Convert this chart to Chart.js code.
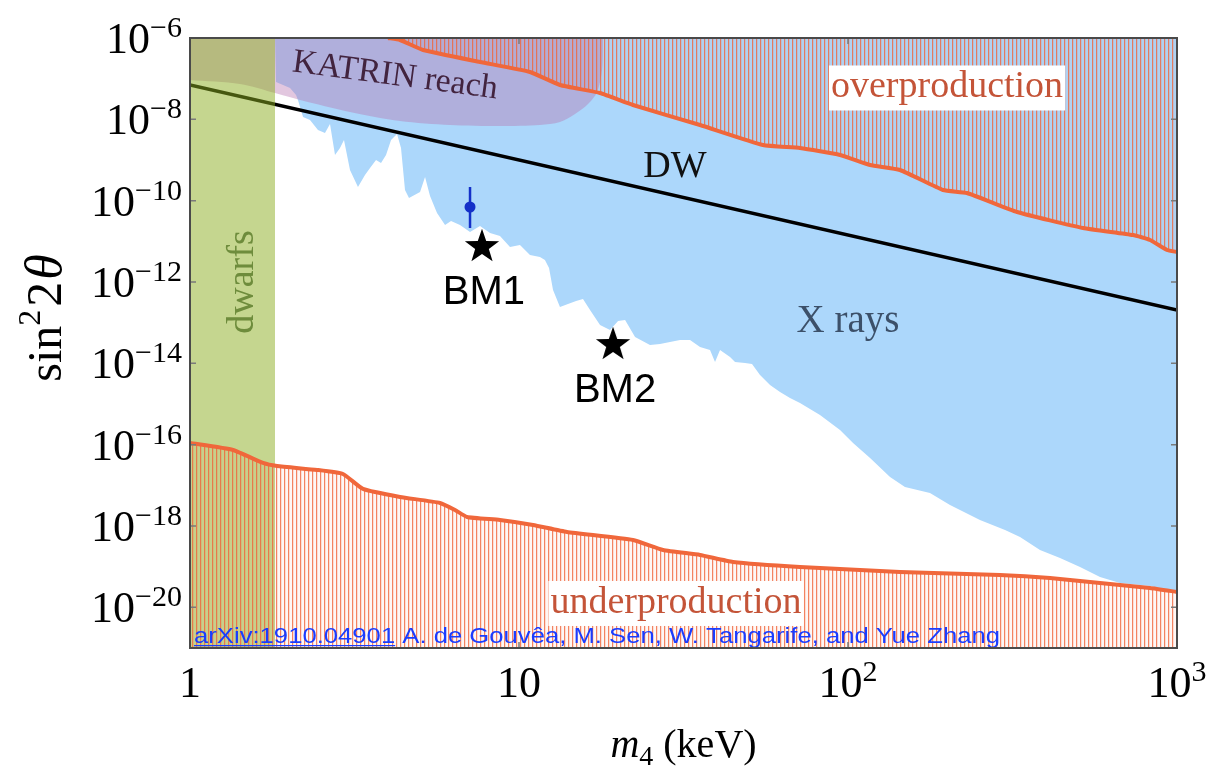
<!DOCTYPE html>
<html>
<head>
<meta charset="utf-8">
<script src="https://cdn.jsdelivr.net/npm/chart.js@4.4.1/dist/chart.umd.min.js"></script>
<style>
  html, body { margin: 0; padding: 0; background: #fff; }
  #wrap { width: 1211px; height: 767px; }
</style>
</head>
<body>
<div id="wrap"><canvas id="canvas" width="1211" height="767"></canvas></div>
<script>
// sterile neutrino parameter space: m4 (keV) against sin^2(2 theta), both log

// X-ray exclusion, lower edge (region above is excluded)
var xRayMass = [1.813, 1.826, 2.014, 2.100, 2.129, 2.206, 2.316, 2.449, 2.572, 2.664, 2.759, 2.857, 2.938,
  3.064, 3.240, 3.403, 3.525, 3.676, 3.807, 3.943, 4.084, 4.258, 4.379,
  4.503, 4.631, 5.003, 5.181, 5.365, 5.634, 5.959, 6.214, 6.617, 7.098,
  7.612, 8.164, 8.754, 9.389, 10.07, 10.80, 11.58, 11.99, 12.34, 12.69,
  13.32, 14.09, 14.91, 15.65, 16.44, 17.63, 18.91, 20.00, 21.01, 22.53,
  25.01, 26.83, 28.77, 30.86, 33.10, 35.50, 38.07, 39.43, 40.83, 43.79,
  45.35, 48.64, 51.08, 54.02, 57.94, 62.14, 66.64, 71.47, 82.20, 94.56,
  103.6, 116.7, 134.2, 149.0, 177.5, 204.2, 251.8, 300.1, 333.3, 383.3,
  441.0, 507.3, 583.4, 671.0, 827.8, 1000];
var xRayMix = [1e-6, 8.28e-8, 5.90e-8, 3.97e-8, 2.99e-8, 1.14e-8, 9.63e-9, 5.47e-9, 4.61e-9, 7.68e-9, 1.33e-9, 1.97e-9, 3.10e-9,
  5.68e-10, 2.17e-10, 4.28e-10, 6.36e-10, 1.00e-9, 8.44e-10, 1.33e-9, 3.10e-9, 4.36e-9, 1.97e-9,
  1.83e-10, 1.16e-10, 1.63e-10, 3.82e-10, 1.30e-10, 4.98e-11, 2.52e-11, 3.17e-11, 2.52e-11, 1.70e-11,
  2.38e-11, 1.60e-11, 1.35e-11, 7.26e-12, 8.13e-12, 4.62e-12, 4.12e-12, 3.48e-12, 2.21e-12, 6.37e-13,
  2.43e-13, 2.88e-13, 3.41e-13, 3.82e-13, 2.05e-13, 8.77e-14, 6.61e-14, 1.10e-13, 1.16e-13, 4.45e-14,
  2.83e-14, 2.99e-14, 3.35e-14, 3.75e-14, 3.75e-14, 2.53e-14, 2.13e-14, 1.08e-14, 2.13e-14, 1.43e-14,
  1.08e-14, 1.02e-14, 9.65e-15, 5.17e-15, 2.94e-15, 1.98e-15, 1.41e-15, 1.06e-15, 5.37e-16, 2.30e-16,
  1.10e-16, 4.71e-17, 1.61e-17, 9.12e-18, 6.49e-18, 3.29e-18, 1.41e-18, 7.99e-19, 5.38e-19, 2.58e-19,
  1.64e-19, 9.84e-20, 5.58e-20, 3.98e-20, 3.36e-20, 2.39e-20];

// overproduction bound (excluded above)
var overMass = [4.000, 4.349, 5.109, 7.612, 10.80, 13.32, 17.63, 22.21, 35.50, 55.16, 71.47,
  94.56, 116.7, 143.9, 194.5, 229.9, 326.4, 518.1, 735.0, 827.8, 932.3, 1000];
var overMix = [1e-6, 8.93e-7, 5.07e-7, 2.57e-7, 1.46e-7, 6.99e-8, 4.44e-8, 2.25e-8, 7.26e-9, 2.34e-9, 1.97e-9,
  1.33e-9, 7.54e-10, 5.68e-10, 1.83e-10, 1.54e-10, 5.27e-11, 2.13e-11, 1.43e-11, 1.08e-11, 6.13e-12, 5.47e-12];

// underproduction bound (excluded below)
var underMass = [1, 1.351, 1.667, 1.838, 2.432, 2.917, 3.356, 4.349, 5.753, 6.390, 6.949, 8.754, 11.03,
  13.99, 22.21, 27.40, 35.50, 44.72, 71.47, 143.9, 289.7, 411.2, 583.4, 827.8, 1000];
var underMix = [1.10e-16, 7.41e-17, 3.55e-17, 2.99e-17, 2.39e-17, 1.90e-17, 8.14e-18, 5.18e-18, 3.69e-18,
  2.48e-18, 1.67e-18, 1.41e-18, 1.06e-18, 7.14e-19, 4.54e-19, 2.58e-19, 1.94e-19, 1.31e-19, 9.84e-20,
  7.41e-20, 6.25e-20, 5.28e-20, 3.98e-20, 3.00e-20, 2.39e-20];

// KATRIN reach, lower edge
var katrinMass = [1, 1.419, 1.813, 2.160, 3.064, 4.349, 6.171, 8.754, 11.58, 13.32, 14.80, 16.21, 17.27, 17.88, 18.00];
var katrinMix = [9.27e-8, 7.39e-8, 4.44e-8, 2.99e-8, 1.52e-8, 9.10e-9, 7.26e-9, 6.86e-9, 7.26e-9, 8.60e-9,
  1.35e-8, 2.38e-8, 4.70e-8, 1.63e-7, 1e-6];

// Dodelson-Widrow line
var dwMass = [1, 1000];
var dwMix = [6.99e-8, 2.05e-13];

// dwarf galaxy bound
var dwarfMass = [1, 1.813];

// benchmarks
var bmNames = ['BM1', 'BM2'];
var bmMass = [7.718, 19.31];
var bmMix = [8.13e-12, 3.17e-14];

// 3.5 keV line point with error bar
var lineMass = [7.098];
var lineMix = [6.99e-11];
var lineMixLow = [2.13e-11];
var lineMixHigh = [2.17e-10];

var xTicks = [1, 10, 100, 1000];
var yTicks = [1e-6, 1e-8, 1e-10, 1e-12, 1e-14, 1e-16, 1e-18, 1e-20];

var serif = '"Liberation Serif", "Times New Roman", serif';
var sans = '"Liberation Sans", Arial, sans-serif';
var orange = '#f0673b';

function pts(xs, ys) {
  return xs.map(function(x, i) { return { x: x, y: ys[i] }; });
}

function makeHatch() {
  var c = document.createElement('canvas');
  c.width = 4; c.height = 4;
  var g = c.getContext('2d');
  g.fillStyle = 'rgba(240,100,58,0.8)';
  g.fillRect(0, 0, 1, 4);
  g.fillStyle = 'rgba(240,100,58,0.22)';
  g.fillRect(1, 0, 1, 4);
  g.fillStyle = 'rgba(240,100,58,0.05)';
  g.fillRect(2, 0, 2, 4);
  return g.createPattern(c, 'repeat');
}

function makeStar(size) {
  var c = document.createElement('canvas');
  c.width = size; c.height = size;
  var g = c.getContext('2d');
  var r = size / 2, ri = r * 0.4, cy = r + r * 0.1;
  g.beginPath();
  for (var i = 0; i < 10; i++) {
    var a = -Math.PI / 2 + i * Math.PI / 5;
    var rr = i % 2 ? ri : r;
    g.lineTo(r + rr * Math.cos(a), cy + rr * Math.sin(a));
  }
  g.closePath();
  g.fillStyle = '#000';
  g.fill();
  return c;
}

// text pieces: [{t, font, dy}]
function pieceWidth(ctx, parts) {
  var w = 0;
  parts.forEach(function(p) { ctx.font = p.font; w += ctx.measureText(p.t).width + (p.gap || 0); });
  return w;
}
function drawPieces(ctx, parts, x, y) {
  ctx.textAlign = 'left';
  ctx.textBaseline = 'alphabetic';
  parts.forEach(function(p) {
    ctx.font = p.font;
    ctx.fillText(p.t, x, y + (p.dy || 0));
    x += ctx.measureText(p.t).width + (p.gap || 0);
  });
}
function powParts(v) {
  var e = Math.round(Math.log10(v));
  if (e === 0) return [{ t: '1', font: '44px ' + serif }];
  if (e === 1) return [{ t: '10', font: '44px ' + serif }];
  return [{ t: '10', font: '44px ' + serif },
          { t: String(e).replace('-', '\u2212'), font: '30px ' + serif, dy: -16 }];
}

function boxedText(ctx, text, x, y, font, color) {
  ctx.font = font;
  var w = ctx.measureText(text).width;
  ctx.fillStyle = '#fff';
  ctx.fillRect(x - w / 2 - 2, y - 22, w + 4, 45);
  ctx.fillStyle = color;
  ctx.textAlign = 'center';
  ctx.textBaseline = 'middle';
  ctx.fillText(text, x, y);
}

var decor = {
  id: 'decor',
  afterDatasetsDraw: function(chart) {
    var ctx = chart.ctx, xs = chart.scales.x, ys = chart.scales.y, a = chart.chartArea;
    var px = function(v) { return xs.getPixelForValue(v); };
    var py = function(v) { return ys.getPixelForValue(v); };
    ctx.save();

    // region names
    ctx.save();
    ctx.translate(px(4.20), py(1.16e-7));
    ctx.rotate(7.6 * Math.PI / 180);
    ctx.font = '34px ' + serif;
    ctx.fillStyle = '#42243f';
    ctx.textAlign = 'center';
    ctx.textBaseline = 'middle';
    ctx.fillText('KATRIN reach', 0, 0);
    ctx.restore();

    boxedText(ctx, 'overproduction', px(200), py(6.07e-8), '38px ' + serif, '#c45438');
    boxedText(ctx, 'underproduction', px(30), py(1.28e-20), '38px ' + serif, '#c45438');

    ctx.textAlign = 'center';
    ctx.textBaseline = 'middle';
    ctx.font = '38px ' + serif;
    ctx.fillStyle = '#111';
    ctx.fillText('DW', px(29.8), py(6.73e-10));
    ctx.font = '39px ' + serif;
    ctx.fillStyle = '#3c5069';
    ctx.fillText('X rays', px(100), py(1.04e-13));

    ctx.save();
    ctx.translate(px(1.554), py(1e-12));
    ctx.rotate(-Math.PI / 2);
    ctx.font = '38px ' + serif;
    ctx.fillStyle = '#6e8c3c';
    ctx.textBaseline = 'alphabetic';
    ctx.fillText('dwarfs', 0, 0);
    ctx.restore();

    // benchmark names under the stars
    ctx.font = '40px ' + sans;
    ctx.fillStyle = '#000';
    ctx.textAlign = 'center';
    ctx.textBaseline = 'middle';
    bmNames.forEach(function(n, i) {
      ctx.fillText(n, px(bmMass[i]) + 2, py(bmMix[i]) + 48);
    });

    // reference line, stretched to the width used in the paper
    var cite = 'arXiv:1910.04901 A. de Gouv\u00eaa, M. Sen, W. Tangarife, and Yue Zhang';
    ctx.font = '22px ' + sans;
    var cw = ctx.measureText(cite).width;
    var uw = ctx.measureText('arXiv:1910.04901').width;
    ctx.save();
    ctx.translate(a.left + 4, a.bottom - 5);
    ctx.scale(806 / cw, 1);
    ctx.fillStyle = '#1a3cff';
    ctx.textAlign = 'left';
    ctx.textBaseline = 'alphabetic';
    ctx.fillText(cite, 0, 0);
    ctx.fillRect(0, 2, uw, 1.2);
    ctx.restore();

    // frame and ticks
    ctx.strokeStyle = '#7a7a7a';
    ctx.lineWidth = 1.5;
    ctx.beginPath();
    yTicks.forEach(function(v) {
      var y = py(v);
      ctx.moveTo(a.left, y); ctx.lineTo(a.left + 6, y);
      ctx.moveTo(a.right, y); ctx.lineTo(a.right - 6, y);
    });
    xTicks.forEach(function(v) {
      var x = px(v);
      ctx.moveTo(x, a.bottom); ctx.lineTo(x, a.bottom - 6);
      ctx.moveTo(x, a.top); ctx.lineTo(x, a.top + 6);
    });
    ctx.stroke();
    ctx.strokeStyle = '#4a4a4a';
    ctx.lineWidth = 2;
    ctx.strokeRect(a.left, a.top, a.right - a.left, a.bottom - a.top);

    // tick labels
    ctx.fillStyle = '#000';
    yTicks.forEach(function(v) {
      var parts = powParts(v);
      var w = pieceWidth(ctx, parts);
      drawPieces(ctx, parts, a.left - 8 - w, py(v) + 15);
    });
    xTicks.forEach(function(v) {
      var parts = powParts(v);
      var w = pieceWidth(ctx, parts);
      drawPieces(ctx, parts, px(v) - w / 2, a.bottom + 49);
    });

    // axis titles
    var xt = [{ t: 'm', font: 'italic 40px ' + serif },
              { t: '4', font: '28px ' + serif, dy: 8 },
              { t: ' (keV)', font: '40px ' + serif }];
    var xw = pieceWidth(ctx, xt);
    drawPieces(ctx, xt, (a.left + a.right) / 2 - xw / 2, 757);

    var yt = [{ t: 'sin', font: '48px ' + serif },
              { t: '2', font: '32px ' + serif, dy: -21, gap: 3 },
              { t: '2', font: '50px ' + serif, gap: 2 },
              { t: '\u03b8', font: 'italic 52px ' + serif }];
    var yw = pieceWidth(ctx, yt);
    ctx.save();
    ctx.translate(61, 318);
    ctx.rotate(-Math.PI / 2);
    drawPieces(ctx, yt, -yw / 2, 0);
    ctx.restore();

    ctx.restore();
  }
};

var hatch = makeHatch();
var star = makeStar(36);

var chart = new Chart(document.getElementById('canvas').getContext('2d'), {
  type: 'line',
  data: {
    datasets: [
      {
        label: 'X rays',
        data: pts(xRayMass, xRayMix),
        borderWidth: 0,
        backgroundColor: '#acd7fb',
        fill: 'end',
        order: 10
      },
      {
        label: 'KATRIN reach',
        data: pts(katrinMass, katrinMix),
        borderWidth: 0,
        backgroundColor: 'rgba(182,116,176,0.4)',
        fill: 'end',
        tension: 0.3,
        order: 9
      },
      {
        label: 'DW',
        data: pts(dwMass, dwMix),
        borderColor: '#000',
        borderWidth: 3.5,
        fill: false,
        order: 8
      },
      {
        label: 'dwarfs',
        data: pts(dwarfMass, [1e-6, 1e-6]),
        borderWidth: 0,
        backgroundColor: 'rgba(139,173,31,0.5)',
        fill: 'start',
        order: 7
      },
      {
        label: 'overproduction',
        data: pts(overMass, overMix),
        borderColor: orange,
        borderWidth: 4,
        backgroundColor: hatch,
        fill: 'end',
        tension: 0.15,
        order: 6
      },
      {
        label: 'underproduction',
        data: pts(underMass, underMix),
        borderColor: orange,
        borderWidth: 4,
        backgroundColor: hatch,
        fill: 'start',
        tension: 0.15,
        order: 5
      },
      {
        label: 'line error',
        data: pts([lineMass[0], lineMass[0]], [lineMixLow[0], lineMixHigh[0]]),
        borderColor: '#1430c8',
        borderWidth: 2.5,
        fill: false,
        order: 3
      },
      {
        label: 'line',
        data: pts(lineMass, lineMix),
        showLine: false,
        pointRadius: 5.5,
        pointBackgroundColor: '#1430c8',
        pointBorderWidth: 0,
        order: 2
      },
      {
        label: 'benchmarks',
        data: pts(bmMass, bmMix),
        showLine: false,
        pointStyle: star,
        pointRadius: 18,
        order: 1
      }
    ]
  },
  options: {
    responsive: false,
    animation: false,
    layout: { padding: { left: 190, top: 38, right: 34, bottom: 119 } },
    plugins: { legend: { display: false }, tooltip: { enabled: false } },
    elements: { point: { radius: 0 }, line: { tension: 0 } },
    scales: {
      x: { type: 'logarithmic', min: 1, max: 1000, display: false },
      y: { type: 'logarithmic', min: 1e-21, max: 1e-6, display: false }
    }
  },
  plugins: [decor]
});
</script>
</body>
</html>
